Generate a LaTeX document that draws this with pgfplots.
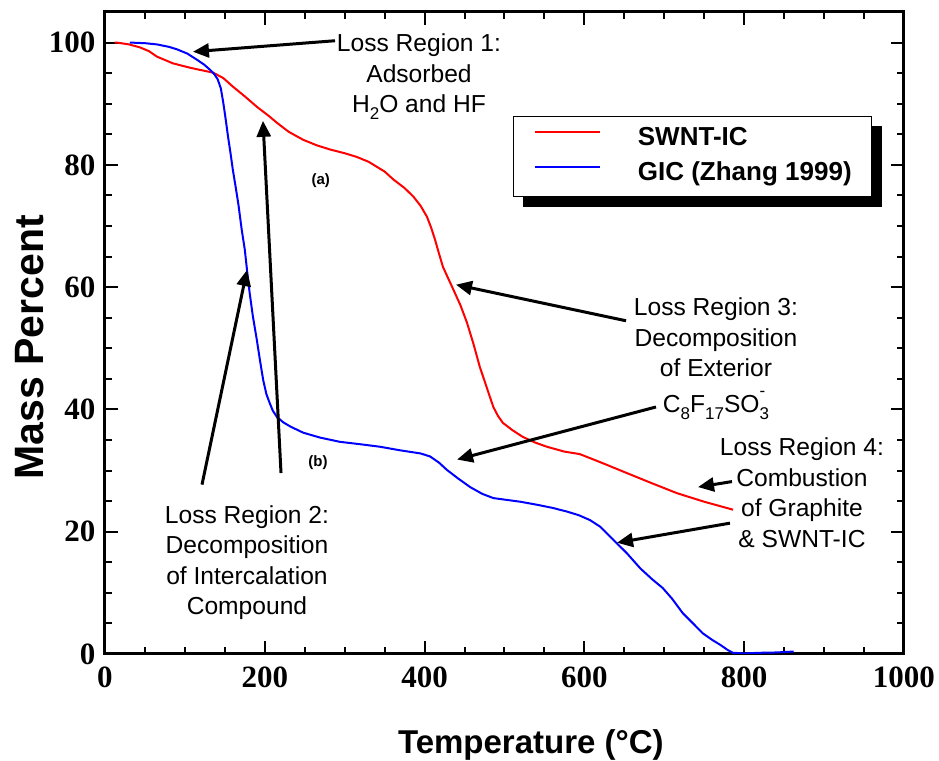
\documentclass[border=0pt]{standalone}
\usepackage{pgfplots}
\pgfplotsset{compat=1.18}
\usepackage{fontspec}
\setmainfont{Liberation Sans}
\newfontfamily\tickfont{Liberation Serif}
\usetikzlibrary{arrows.meta,backgrounds}

% subscript / superscript helpers for chemical formulas
\newcommand{\chsub}[1]{\raisebox{-0.5ex}{\fontsize{8.5}{8.5}\selectfont #1}}
\newcommand{\chsubsup}[2]{\rlap{\raisebox{1.2ex}{\fontsize{8.5}{8.5}\selectfont #2}}\raisebox{-0.5ex}{\fontsize{8.5}{8.5}\selectfont #1}}

\tikzset{
  note/.style={anchor=north, inner sep=0pt, align=center,
    font=\fontsize{12.3}{15.3}\selectfont},
  callout/.style={black, line width=1.5pt,
    -{Triangle[length=8pt,width=7pt]}},
}

\begin{document}
\begin{tikzpicture}
\useasboundingbox (-52.5pt,-53.5pt) rectangle (417pt,327pt);
\begin{axis}[
  scale only axis, width=399.5pt, height=321pt,
  xmin=0, xmax=1000, ymin=0, ymax=105,
  xtick={0,200,...,1000}, ytick={0,20,...,100},
  minor xtick={50,100,...,950},
  minor ytick={5,10,...,100},
  tick align=inside,
  major tick length=6.5pt, minor tick length=3.5pt,
  every tick/.style={black, line width=1pt},
  axis line style={line width=1.5pt},
  tick label style={font=\tickfont\bfseries\fontsize{15.5}{15.5}\selectfont},
  /pgf/number format/assume math mode=true,
  /pgf/number format/1000 sep={},
  xticklabel shift=3pt, yticklabel shift=1.3pt,
  xlabel={Temperature (°C)},
  ylabel={Mass Percent},
  xlabel style={font=\bfseries\fontsize{16.5}{16.5}\selectfont,
    at={(axis description cs:0.533,-0.142)}, anchor=center},
  ylabel style={font=\bfseries\fontsize{20.5}{20.5}\selectfont,
    at={(axis description cs:-0.094,0.478)}, anchor=center},
  legend style={name=leg, at={(axis description cs:0.511,0.838)}, anchor=north west,
    draw=black, line width=0.6pt, fill=white,
    inner xsep=10pt, inner ysep=5pt, row sep=5pt,
    font=\bfseries\fontsize{13}{13}\selectfont,
    nodes={inner sep=0pt, text height=9.5pt, text depth=3pt}},
  legend image code/.code={\draw[#1, line width=1pt] (0pt,3.5pt) -- (32.5pt,3.5pt); \path (51pt,0pt);},
  legend cell align=left,
]

\addplot[red, line width=1pt] coordinates {
(12,100) (15,100) (30,99.7) (44,99.2) (55,98.6) (65,97.7) (85,96.6) (106,95.9)
(120,95.5) (135,95.1) (148,94.2) (160,92.8) (175,91.2) (190,89.5) (205,88.0)
(215,86.9) (230,85.4) (248,84.1) (265,83.2) (282,82.5) (300,81.9) (315,81.3)
(330,80.5) (340,79.7) (350,78.9) (361,77.6) (375,76.2) (386,74.8) (395,73.3)
(403,71.5) (408,69.8) (413,67.8) (418,65.5) (423,63.3) (430,61.3) (436,59.6)
(445,57.0) (453,54.2) (461,50.8) (469,47.0) (478,43.5) (486,40.4) (492,38.9)
(498,37.8) (510,36.6) (523,35.5) (538,34.6) (553,33.9) (575,33.1) (594,32.7)
(600,32.4) (625,31.1) (653,29.6) (685,27.9) (716,26.3) (750,24.9) (786,23.6)
};
\addlegendentry{SWNT-IC}

\addplot[blue, line width=1pt] coordinates {
(31,100) (50,99.9) (65,99.7) (80,99.3) (90,98.9) (103,98.2) (115,97.2)
(124,96.4) (131,95.6) (137,94.8) (141,94.0) (145,92.5) (148,90.2) (151,87.5)
(154,84.6) (157,82.0) (160,79.2) (164,76.0) (167,73.5) (171,69.5) (175,66.1)
(178,62.5) (181,59.1) (185,55.3) (190,51.4) (194,48.0) (198,44.8) (202,42.5)
(206,41.1) (210,39.8) (215,38.8) (223,37.9) (232,37.2) (248,36.2) (269,35.4)
(294,34.7) (320,34.3) (344,33.9) (370,33.3) (395,32.8) (407,32.3) (418,31.3)
(428,30.1) (442,28.7) (457,27.3) (472,26.2) (486,25.5) (503,25.2) (520,24.9)
(541,24.4) (560,23.9) (578,23.3) (593,22.7) (607,21.9) (620,20.8) (636,18.7)
(653,16.5) (670,14.0) (685,12.2) (698,10.8) (710,9.0) (723,6.7) (736,5.0)
(748,3.4) (760,2.3) (770,1.5) (780,0.6) (786,0.2) (800,0.1) (820,0.2)
(840,0.25) (862,0.4)
};
\addlegendentry{GIC (Zhang 1999)}

% region labels
\node[note] at (axis cs:393,101.5) {Loss Region 1:\\Adsorbed\\H\chsub{2}O and HF};
\node[note] at (axis cs:177.7,24.4) {Loss Region 2:\\Decomposition\\of Intercalation\\Compound};
\node[note] at (axis cs:764.7,58.3) {Loss Region 3:\\Decomposition\\of Exterior\\[2.5pt]C\chsub{8}F\chsub{17}SO\chsubsup{3}{-}};
\node[note] at (axis cs:872.3,35.4) {Loss Region 4:\\Combustion\\of Graphite\\\& SWNT-IC};

\node[font=\bfseries\fontsize{7.5}{7.5}\selectfont] at (axis cs:270,77.4) {(a)};
\node[font=\bfseries\fontsize{7.5}{7.5}\selectfont] at (axis cs:266.6,31.3) {(b)};

% callout arrows
\draw[callout] (axis cs:287.9,100.3) -- (axis cs:110.1,98.5);
\draw[callout] (axis cs:121.4,27.7) -- (axis cs:177.7,62.8);
\draw[callout] (axis cs:220.3,29.6) -- (axis cs:197.7,87.2);
\draw[callout] (axis cs:652.1,54.5) -- (axis cs:439.3,60.4);
\draw[callout] (axis cs:689.6,40.4) -- (axis cs:440.6,31.8);
\draw[callout] (axis cs:784.7,28.2) -- (axis cs:742.2,27.3);
\draw[callout] (axis cs:782.2,21.4) -- (axis cs:640.8,18.2);
\end{axis}
% solid black shadow behind the legend box
\begin{scope}[on background layer]
  \fill[black] ([shift={(5pt,-5pt)}]leg.south west) rectangle ([shift={(5pt,-5pt)}]leg.north east);
\end{scope}
\end{tikzpicture}
\end{document}
